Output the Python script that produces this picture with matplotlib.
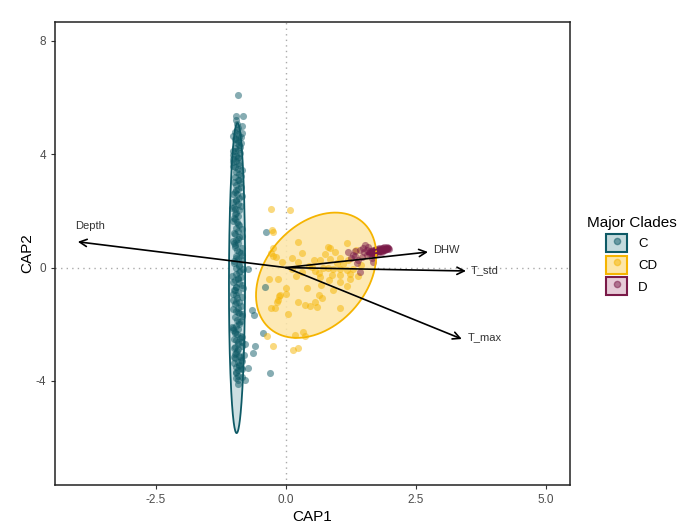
import numpy as np
import matplotlib
matplotlib.use("Agg")
from matplotlib import pyplot as plt
from matplotlib.patches import Patch
from matplotlib.lines import Line2D

plt.rcParams['font.family'] = ['Liberation Sans', 'DejaVu Sans']
plt.rcParams['axes.unicode_minus'] = False

# --- sample scores (CAP1, CAP2) per major clade ---
c_cap1 = [-0.93, -0.96, -0.82, -0.94, -0.92, -0.97, -0.93, -0.90, -0.96, -0.94,
          -0.91, -0.97, -0.93, -0.89, -0.96, -0.92, -0.95, -0.90, -0.97, -0.93,
          -0.95, -0.91, -0.98, -0.93, -0.89, -0.96, -0.92, -0.97, -0.94, -0.90,
          -0.96, -0.93, -0.99, -0.91, -0.95, -0.92, -0.97, -0.94, -0.90, -0.96,
          -0.93, -0.98, -0.91, -0.95, -0.92, -0.97, -0.94, -0.90, -0.96, -0.93,
          -0.99, -0.91, -0.95, -0.88, -0.96, -0.93, -0.97, -0.91, -0.95, -0.98,
          -0.92, -0.96, -0.94, -0.90, -0.97, -0.93, -0.95, -0.91, -0.98, -0.94,
          -0.90, -0.96, -0.92, -0.97, -0.94, -0.89, -0.95, -0.92, -0.97, -0.93,
          -0.95, -0.91, -0.97, -0.93, -0.90, -0.96, -0.92, -0.95, -0.93, -0.96,
          -0.97, -0.92, -0.90, -0.96, -0.93, -0.98, -0.91, -0.95, -0.92, -0.97,
          -0.94, -0.97, -0.91, -0.95, -0.98, -0.93, -0.96, -0.92, -0.95, -0.90,
          -0.93, -0.97, -0.91, -0.95, -0.93, -0.98, -0.90, -0.94, -0.96, -0.92,
          -0.85, -1.02, -0.88, -1.01, -0.85, -0.99, -1.02, -0.86, -1.00, -0.84,
          -1.01, -0.86, -1.00, -1.03, -0.85, -0.84, -1.01, -0.87, -1.02, -0.85,
          -1.00, -0.84, -0.87, -1.02, -0.86, -1.03, -1.00, -0.85, -1.01, -0.86,
          -1.02, -0.85, -1.00, -0.84, -0.87, -1.01, -0.85, -1.02, -0.84, -1.00,
          -0.86, -1.02, -0.85, -1.00, -0.86, -1.01, -0.87, -0.84, -1.02, -0.85,
          -1.00, -1.03, -0.86, -1.01, -0.84, -0.87, -1.02, -0.85, -1.00, -0.86,
          -0.38, -0.72, -0.82, -0.82, -0.66, -0.62, -0.45, -0.60, -0.64, -0.80,
          -0.72, -0.31, -0.79, -0.40, -0.92, -0.79, -0.85, -0.84]
c_cap2 = [6.10, 5.35, 5.35, 5.05, 4.92, 4.80, 4.71, 4.60, 4.52, 4.41,
          4.33, 4.22, 4.15, 4.03, 3.95, 3.87, 3.76, 3.68, 3.55, 3.47,
          3.38, 3.30, 3.19, 3.08, 2.97, 2.90, 2.78, 2.66, 2.58, 2.45,
          2.36, 2.25, 2.13, 2.02, 1.93, 1.81, 1.70, 1.62, 1.50, 1.41,
          1.30, 1.18, 1.07, 0.98, 0.86, 0.74, 0.63, 0.55, 0.42, 0.31,
          0.22, 0.10, -0.02, -0.11, -0.23, -0.35, -0.44, -0.56, -0.67, -0.78,
          -0.86, -0.97, -1.09, -1.21, -1.30, -1.42, -1.53, -1.61, -1.74, -1.85,
          -1.93, -2.05, -2.16, -2.27, -2.35, -2.48, -2.57, -2.69, -2.80, -2.88,
          -3.00, -3.11, -3.20, -3.33, -3.42, -3.51, -3.63, -3.72, -3.81, -3.90,
          4.55, 3.90, 3.10, 2.40, 1.55, 0.80, 0.05, -0.70, -1.55, -2.30,
          4.85, 4.10, 3.62, 2.72, 1.88, 1.00, 0.35, -0.40, -1.20, -1.98,
          -2.62, -3.05, -3.47, 5.20, 4.45, 2.05, -0.15, -2.95, -3.70, -3.98,
          4.98, 4.66, 4.27, 3.83, 3.44, 3.02, 2.61, 2.19, 1.76, 1.36,
          0.93, 0.51, 0.16, -0.29, -0.62, -1.03, -1.47, -1.88, -2.21, -2.64,
          -3.15, -3.58, 4.38, 3.71, 2.84, 2.10, 1.23, 0.68, -0.52, -1.36,
          -2.12, -2.77, -3.38, 4.75, 3.24, 1.66, 0.27, -0.93, -1.70, -2.52,
          -3.25, 4.13, 2.51, 0.88, -0.33, -1.13, -2.43, -3.85, 3.58, 1.12,
          -0.80, -2.09, 4.62, 2.30, -1.65, -3.14, 3.96, 0.46, -2.85, -3.55,
          1.27, -0.06, -0.06, -0.72, -1.49, -1.67, -2.30, -2.75, -3.02, -3.10,
          -3.55, -3.73, -3.96, -0.69, -4.10, -2.70, -3.30, -2.45]

cd_cap1 = [-0.29, 0.08, -0.26, -0.24, 0.24, 0.81, 0.85, 1.17, -0.24, 0.30,
           -0.24, -0.08, 0.11, 0.24, 0.53, 0.65, 0.85, 1.04, 1.20, 0.72,
           0.81, 0.91, 1.04, 1.17, 1.29, 0.63, 0.88, 1.04, 1.23, 0.65,
           0.82, 1.04, 1.23, -0.33, -0.15, 0.40, 0.91, 1.17, -0.12, 0.01,
           -0.16, 0.63, 0.69, -0.28, -0.21, 0.24, 0.37, 0.46, 0.56, 0.59,
           0.04, 1.04, 0.17, 0.33, 0.37, -0.37, -0.24, 0.14, 0.24, -0.29,
           -0.19, 0.00, -0.18, -0.13, 0.45, 0.98, 1.45, 0.75, 0.30, 1.35,
           0.55, 1.10, 0.20, 0.95, 1.38, 0.68, 0.12, 0.50]
cd_cap2 = [2.08, 2.04, 1.33, 1.24, 0.92, 0.74, 0.68, 0.86, 0.68, 0.51,
           0.41, 0.21, 0.33, 0.21, 0.25, 0.25, 0.30, 0.33, 0.27, 0.00,
           -0.03, -0.05, -0.05, -0.08, -0.05, -0.19, -0.27, -0.25, -0.21, -0.33,
           -0.45, -0.50, -0.40, -0.40, -0.41, -0.73, -0.79, -0.65, -0.96, -0.93,
           -1.16, -0.96, -1.08, -1.43, -1.41, -1.20, -1.32, -1.35, -1.20, -1.40,
           -1.63, -1.43, -2.38, -2.26, -2.43, -2.43, -2.75, -2.90, -2.85, 0.51,
           0.39, -0.73, -1.20, -1.02, 0.05, 0.15, 0.10, 0.48, -0.15, 0.62,
           -0.12, 0.12, -0.30, 0.55, -0.30, -0.60, -0.05, 0.02]

d_cap1 = [1.52, 1.58, 1.33, 1.42, 1.50, 1.33, 1.39, 1.46, 1.55, 1.65,
          1.68, 1.42, 1.36, 1.20, 1.28, 1.48, 1.25, 1.56,
          1.60, 1.63, 1.66, 1.70, 1.72, 1.75, 1.78, 1.80, 1.83, 1.86,
          1.88, 1.90, 1.93, 1.96, 1.98, 1.62, 1.68, 1.74, 1.79, 1.84,
          1.89, 1.94, 1.70, 1.77, 1.85, 1.81, 1.87, 1.92, 1.73, 1.65,
          1.76, 1.82, 1.91, 1.97, 1.71, 1.79, 1.86, 1.64, 1.69, 1.95]
d_cap2 = [0.80, 0.74, 0.59, 0.62, 0.56, 0.41, 0.27, 0.39, 0.45, 0.33,
          0.21, -0.14, 0.15, 0.55, 0.45, 0.70, 0.35, 0.62,
          0.50, 0.55, 0.52, 0.58, 0.54, 0.60, 0.57, 0.62, 0.59, 0.64,
          0.61, 0.66, 0.65, 0.68, 0.67, 0.60, 0.63, 0.66, 0.68, 0.70,
          0.71, 0.72, 0.47, 0.50, 0.55, 0.66, 0.69, 0.70, 0.63, 0.57,
          0.58, 0.60, 0.63, 0.70, 0.61, 0.65, 0.62, 0.53, 0.49, 0.66]

# ellipse summaries: centre, half extent in CAP1 / CAP2, correlation
clades = ['C', 'CD', 'D']
ell_center = [(-0.94, -0.37), (0.58, -0.27), (1.77, 0.59)]
ell_half = [(0.155, 5.47), (1.155, 2.21), (0.21, 0.12)]
ell_corr = [0.05, 0.32, 0.85]

# environmental vectors
env_names = ['Depth', 'DHW', 'T_std', 'T_max']
env_cap1 = [-4.0, 2.73, 3.46, 3.38]
env_cap2 = [0.91, 0.55, -0.12, -2.52]
label_pos = [(-3.77, 1.47), (2.83, 0.62), (3.56, -0.10), (3.50, -2.45)]

colors = ['#0E5A66', '#F5B400', '#7A1A48']
fills = ['#C4DADD', '#FDE6A8', '#E6CBD7']

fig = plt.figure(figsize=(6.86, 5.26), dpi=100)
ax = fig.add_axes([0.080, 0.078, 0.751, 0.881])

ax.axhline(0, color='#AAAAAA', ls=(0, (1, 3)), lw=1, zorder=0)
ax.axvline(0, color='#AAAAAA', ls=(0, (1, 3)), lw=1, zorder=0)

t = np.linspace(0, 2 * np.pi, 200)
for i in range(3):
    cx, cy = ell_center[i]
    hx, hy = ell_half[i]
    r = ell_corr[i]
    ex = cx + hx * np.cos(t)
    ey = cy + hy * (r * np.cos(t) + np.sqrt(1 - r ** 2) * np.sin(t))
    ax.fill(ex, ey, color=fills[i], alpha=0.85, lw=0, zorder=1)
    ax.plot(ex, ey, color=colors[i], lw=1.3, zorder=3)

pts = [(c_cap1, c_cap2), (cd_cap1, cd_cap2), (d_cap1, d_cap2)]
for i, (xs, ys) in enumerate(pts):
    ax.scatter(xs, ys, s=26, color=colors[i], alpha=0.5, lw=0, zorder=2)

for i, name in enumerate(env_names):
    ax.annotate('', xy=(env_cap1[i], env_cap2[i]), xytext=(0, 0),
                arrowprops=dict(arrowstyle='->', lw=1.2, color='black',
                                mutation_scale=13, shrinkA=0, shrinkB=0),
                zorder=4)
    lx, ly = label_pos[i]
    ha = 'center' if name == 'Depth' else 'left'
    ax.text(lx, ly, name, fontsize=8, color='#333333', ha=ha, va='center')

ax.set_xlim(-4.44, 5.46)
ax.set_ylim(-7.67, 8.68)
ax.set_xticks([-2.5, 0.0, 2.5, 5.0])
ax.set_xticklabels(['-2.5', '0.0', '2.5', '5.0'])
ax.set_yticks([-4, 0, 4, 8])
ax.tick_params(labelsize=8.5, labelcolor='#4D4D4D', color='#333333', length=3)
ax.set_xlabel('CAP1', fontsize=11, labelpad=3)
ax.set_ylabel('CAP2', fontsize=11, labelpad=1)
for s in ax.spines.values():
    s.set_linewidth(1.1)
    s.set_color('#222222')

handles = []
for i in range(3):
    box = Patch(facecolor=fills[i], edgecolor=colors[i], lw=1.5)
    dot = Line2D([], [], marker='o', ls='', color=colors[i], alpha=0.5, markersize=4.5)
    handles.append((box, dot))
fig.legend(handles, clades, title='Major Clades', loc='upper left',
           bbox_to_anchor=(0.838, 0.612), frameon=False, fontsize=9.5,
           title_fontsize=11, handlelength=1.6, handleheight=1.7,
           labelspacing=0.3, handletextpad=0.8)

fig.savefig('out.png', dpi=100)
